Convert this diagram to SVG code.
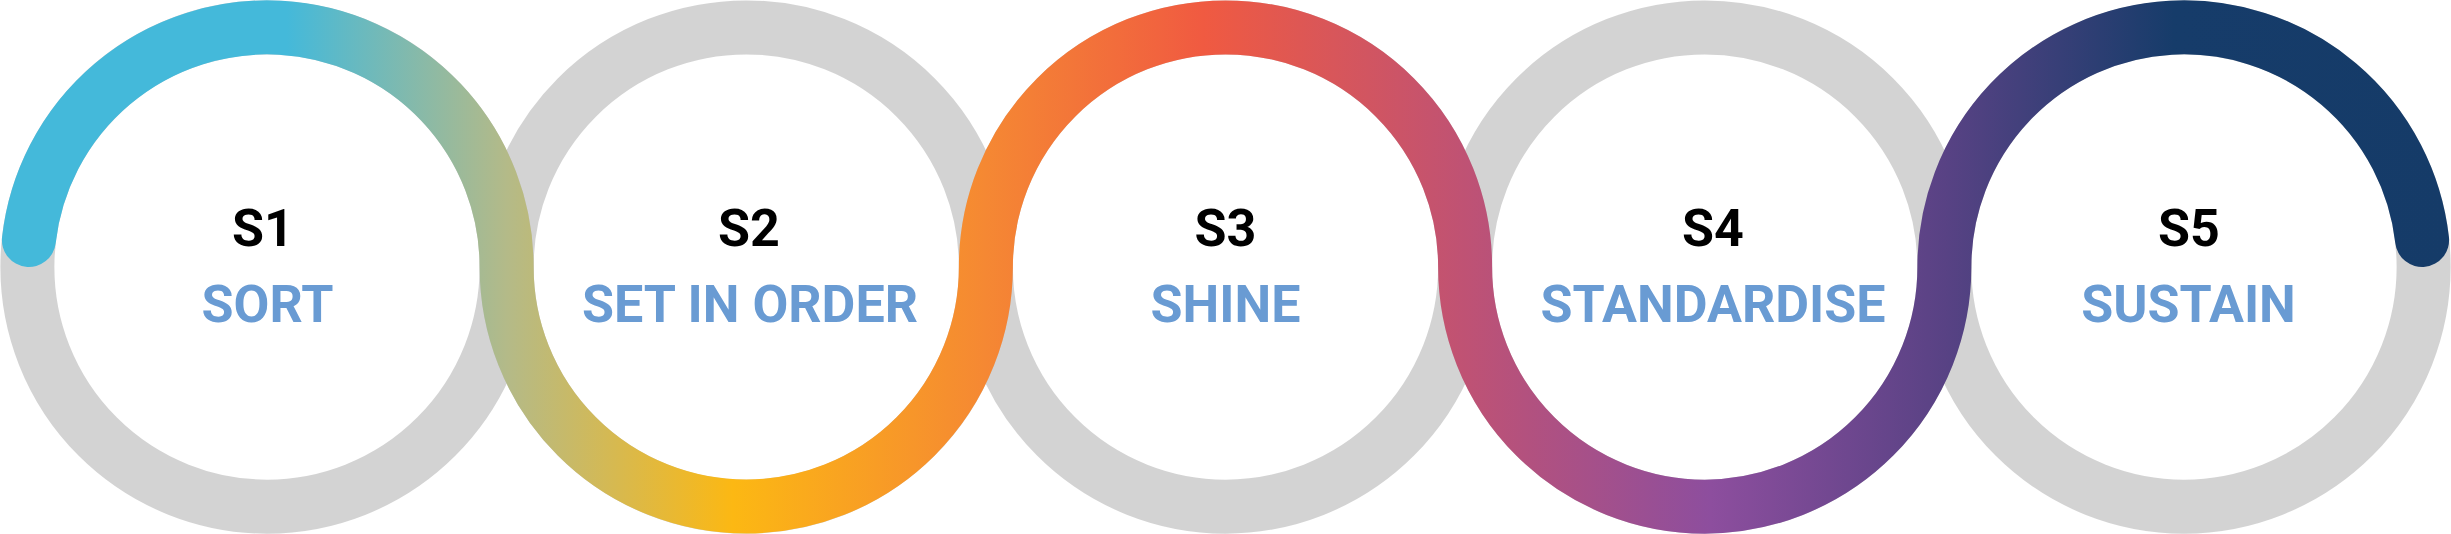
<svg xmlns="http://www.w3.org/2000/svg" width="2451" height="534" viewBox="0 0 2451 534">
  <defs>
    <linearGradient id="flow" gradientUnits="userSpaceOnUse" x1="0" y1="0" x2="2451" y2="0">
      <stop offset="0" stop-color="#44b9da"/>
      <stop offset="0.117" stop-color="#44b9da"/>
      <stop offset="0.207" stop-color="#b4ba88"/>
      <stop offset="0.299" stop-color="#fcb813"/>
      <stop offset="0.402" stop-color="#f58833"/>
      <stop offset="0.491" stop-color="#f05a41"/>
      <stop offset="0.598" stop-color="#bf5274"/>
      <stop offset="0.698" stop-color="#8d4e9e"/>
      <stop offset="0.794" stop-color="#584284"/>
      <stop offset="0.887" stop-color="#163c6a"/>
      <stop offset="1" stop-color="#153b68"/>
    </linearGradient>
    <style>
      .ring { fill: none; stroke: #c4c4c4; stroke-opacity: 0.75; stroke-width: 54; }
      .num { font-family: Roboto, "Liberation Sans", sans-serif; font-weight: 700; font-size: 52px; fill: #000000; text-anchor: middle; }
      .title { font-family: Roboto, "Liberation Sans", sans-serif; font-weight: 700; font-size: 52px; fill: #699bd3; text-anchor: middle; }
      .flow { fill: none; stroke: url(#flow); stroke-width: 54; stroke-linecap: round; }
    </style>
  </defs>
  <rect width="2451" height="534" fill="#ffffff"/>

  <g id="rings">
    <circle class="ring" cx="267" cy="267" r="239.625"/>
    <circle class="ring" cx="746.25" cy="267" r="239.625"/>
    <circle class="ring" cx="1225.5" cy="267" r="239.625"/>
    <circle class="ring" cx="1704.75" cy="267" r="239.625"/>
    <circle class="ring" cx="2184" cy="267" r="239.625"/>
  </g>

  <g id="connectors">
    <path class="flow" d="M 28.9 240 A 239.625 239.625 0 0 1 506.625 267 A 239.625 239.625 0 0 0 985.875 267 A 239.625 239.625 0 0 1 1465.125 267 A 239.625 239.625 0 0 0 1944.375 267 A 239.625 239.625 0 0 1 2422.1 240"/>
  </g>

  <g id="node-s1">
    <text class="num" x="263" y="246">S1</text>
    <text class="title" x="267.5" y="322">SORT</text>
  </g>
  <g id="node-s2">
    <text class="num" x="749" y="246">S2</text>
    <text class="title" x="750" y="322">SET IN ORDER</text>
  </g>
  <g id="node-s3">
    <text class="num" x="1225.5" y="246">S3</text>
    <text class="title" x="1225.5" y="322">SHINE</text>
  </g>
  <g id="node-s4">
    <text class="num" x="1713" y="246">S4</text>
    <text class="title" x="1713" y="322">STANDARDISE</text>
  </g>
  <g id="node-s5">
    <text class="num" x="2189" y="246">S5</text>
    <text class="title" x="2188.5" y="322">SUSTAIN</text>
  </g>
</svg>
